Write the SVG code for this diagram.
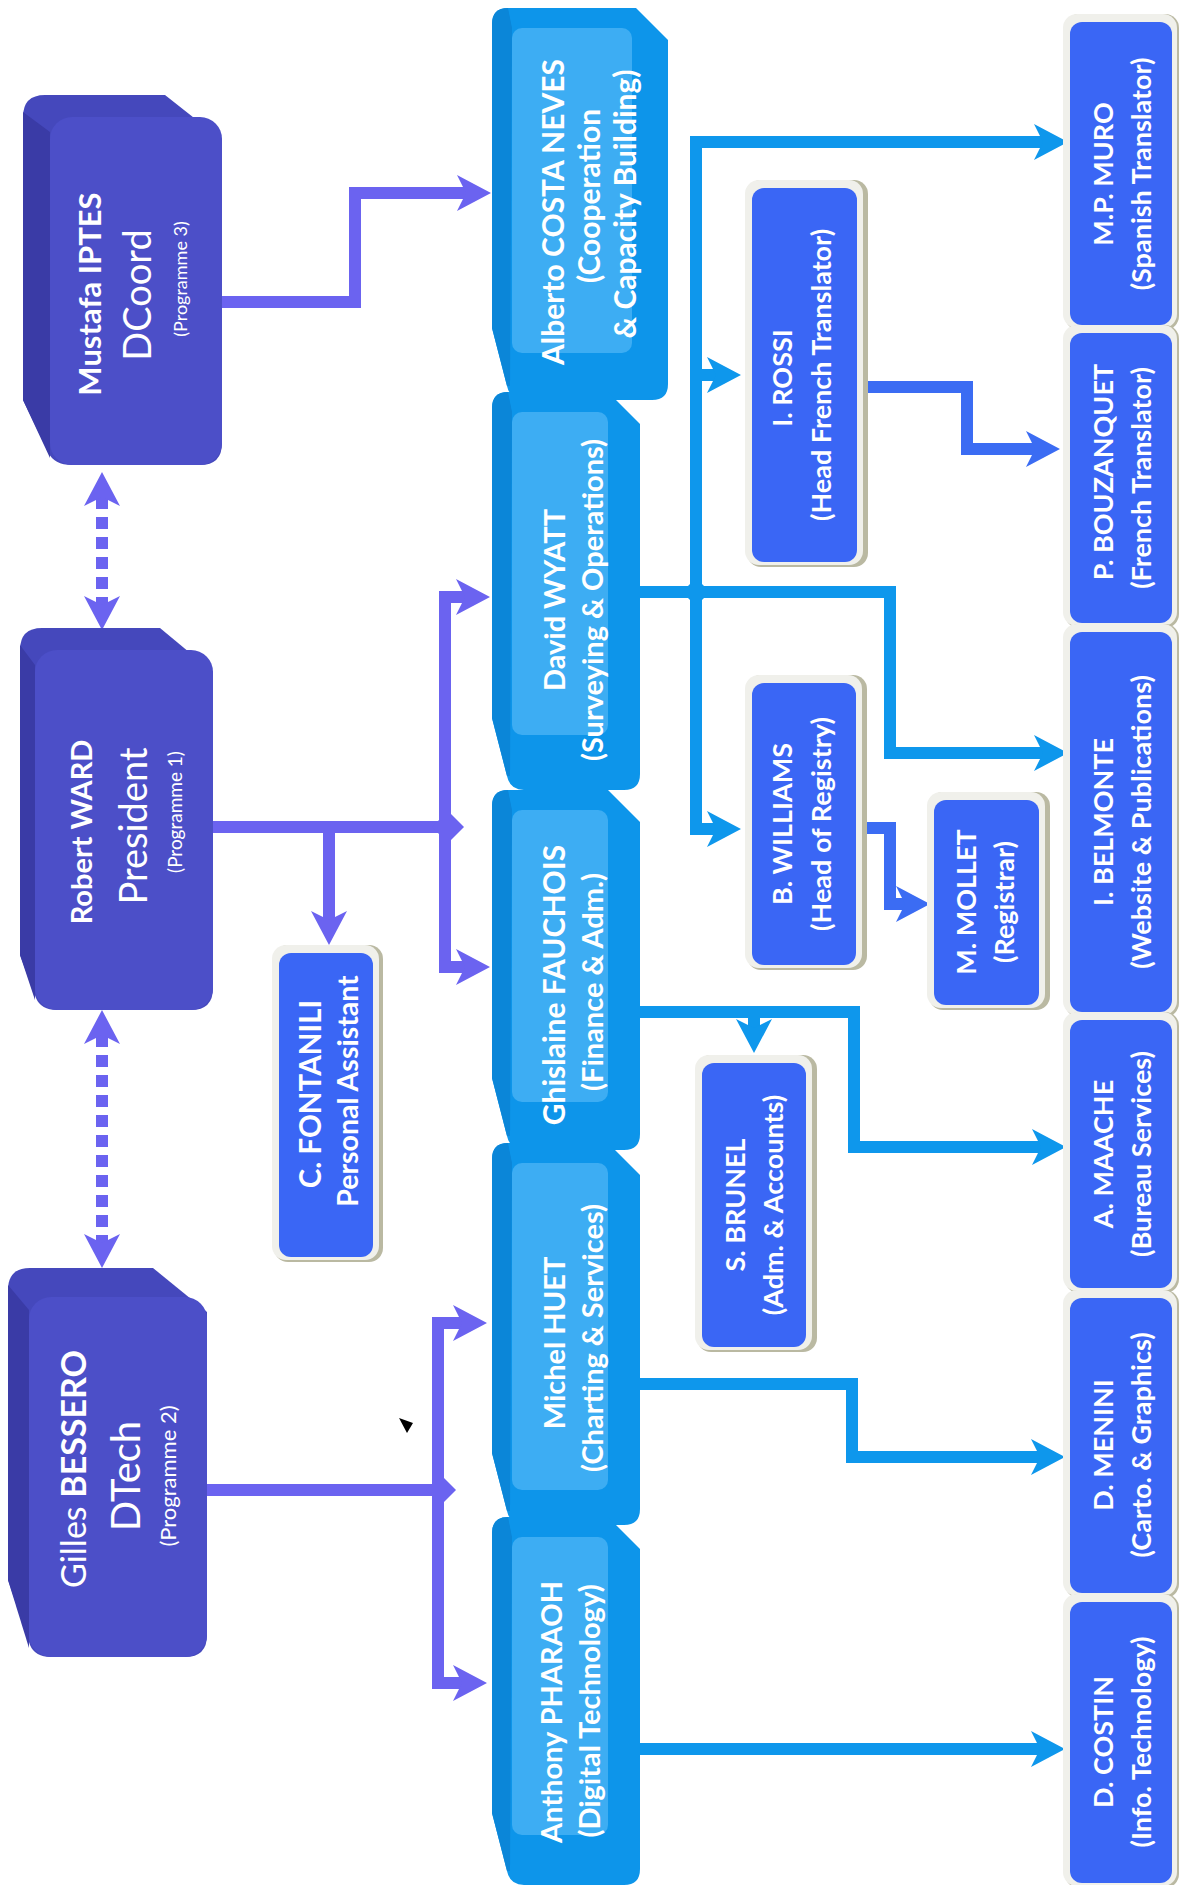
<svg xmlns="http://www.w3.org/2000/svg" width="1179" height="1885" viewBox="0 0 1179 1885">
<defs>
<style>
text{font-family:Lato,'Open Sans','Liberation Sans',sans-serif;fill:#ffffff;text-anchor:middle}
.b{font-weight:700}
.r{font-weight:400}
.hull{fill:#4548BC}
.side{fill:#3A3BA6}
.face{fill:#4C4FC8}
.bhull{fill:#0D95EA}
.bside{fill:#0B86D8}
.bpanel{fill:#3DADF3}
.sh{fill:#BAB9A2}
.fr{fill:#F0F0EB}
.sb{fill:#3A66F5}
.lp{fill:none;stroke:#6B63F0;stroke-width:12}
.lb{fill:none;stroke:#0E97EC;stroke-width:12}
.lr{fill:none;stroke:#3B6CF3;stroke-width:12}
.s27{font-size:27px}
.s29{font-size:29px}
.s30{font-size:30px}
</style>
<marker id="ap" markerUnits="userSpaceOnUse" markerWidth="40" markerHeight="40" viewBox="-2 -20 40 40" refX="9" refY="0" orient="auto-start-reverse"><path d="M0,-18 L34,0 L0,18 L9,0 Z" fill="#6B63F0"/></marker>
<marker id="ab" markerUnits="userSpaceOnUse" markerWidth="40" markerHeight="40" viewBox="-2 -20 40 40" refX="9" refY="0" orient="auto-start-reverse"><path d="M0,-18 L34,0 L0,18 L9,0 Z" fill="#0E97EC"/></marker>
<marker id="ar" markerUnits="userSpaceOnUse" markerWidth="40" markerHeight="40" viewBox="-2 -20 40 40" refX="9" refY="0" orient="auto-start-reverse"><path d="M0,-18 L34,0 L0,18 L9,0 Z" fill="#3B6CF3"/></marker>
</defs>
<rect width="1179" height="1885" fill="#ffffff"/>

<g id="connectors">
<path class="lp" d="M222,302 H355 V193 H466" marker-end="url(#ap)"/>
<path class="lp" d="M213,827 H448"/>
<polygon fill="#6B63F0" points="464,827 448,811 432,827 448,843"/>
<path class="lp" d="M329,827 V920" marker-end="url(#ap)"/>
<path class="lp" d="M465,597 H445 V967 H465" marker-start="url(#ap)" marker-end="url(#ap)"/>
<path class="lp" d="M207,1490 H440"/>
<polygon fill="#6B63F0" points="456,1490 441,1475 426,1490 441,1505"/>
<path class="lp" d="M462,1323 H438 V1683 H462" marker-start="url(#ap)" marker-end="url(#ap)"/>
<path class="lp" d="M102,497 V605" stroke-dasharray="12 8" marker-start="url(#ap)" marker-end="url(#ap)"/>
<path class="lp" d="M102,1035 V1243" stroke-dasharray="12 8" marker-start="url(#ap)" marker-end="url(#ap)"/>
<path class="lb" d="M640,592 H890 V753 H1043" marker-end="url(#ab)"/>
<path class="lb" d="M1043,142 H696 V829 H716" marker-start="url(#ab)" marker-end="url(#ab)"/>
<path class="lb" d="M696,375 H716" marker-end="url(#ab)"/>
<polygon fill="#0E97EC" points="710,592 696,578 682,592 696,606"/>
<path class="lb" d="M640,1012 H854 V1147 H1041" marker-end="url(#ab)"/>
<path class="lb" d="M754,1012 V1028" marker-end="url(#ab)"/>
<path class="lb" d="M640,1384 H852 V1457 H1040" marker-end="url(#ab)"/>
<path class="lb" d="M640,1749 H1040" marker-end="url(#ab)"/>
<path class="lr" d="M857,387 H967 V449 H1035" marker-end="url(#ar)"/>
<path class="lr" d="M856,828 H890 V904 H905" marker-end="url(#ar)"/>
</g>

<g id="mustafa">
<path class="hull" d="M23,117 Q23,95 45,95 L165,95 L222,140 L222,443 Q222,465 200,465 L72,465 Q54,465 48,452 L23,400 Z"/>
<path class="side" d="M23,112 L50,132 L50,458 L23,400 Z"/>
<rect class="face" x="50" y="117" width="172" height="348" rx="22"/>
<text class="b" font-size="31" transform="translate(101,294) rotate(-90)">Mustafa IPTES</text>
<text class="r" font-size="38" transform="translate(151,295) rotate(-90)">DCoord</text>
<text class="r" font-size="18" transform="translate(187,279) rotate(-90)">(Programme 3)</text>
</g>

<g id="robert">
<path class="hull" d="M20,650 Q20,628 42,628 L160,628 L213,672 L213,988 Q213,1010 191,1010 L57,1010 Q41,1010 36,998 L20,955 Z"/>
<path class="side" d="M20,645 L35,665 L35,1000 L20,955 Z"/>
<rect class="face" x="35" y="650" width="178" height="360" rx="22"/>
<text class="b" font-size="29" transform="translate(92,832) rotate(-90)">Robert WARD</text>
<text class="r" font-size="38" transform="translate(147,826) rotate(-90)">President</text>
<text class="r" font-size="19" transform="translate(182,812) rotate(-90)">(Programme 1)</text>
</g>

<g id="gilles">
<path class="hull" d="M8,1290 Q8,1268 30,1268 L153,1268 L207,1312 L207,1635 Q207,1657 185,1657 L51,1657 Q35,1657 30,1645 L8,1580 Z"/>
<path class="side" d="M8,1285 L29,1310 L29,1648 L8,1580 Z"/>
<rect class="face" x="29" y="1297" width="178" height="360" rx="22"/>
<text font-size="34" transform="translate(86,1469) rotate(-90)"><tspan class="r">Gilles </tspan><tspan class="b">BESSERO</tspan></text>
<text class="r" font-size="40" transform="translate(140,1476) rotate(-90)">DTech</text>
<text class="r" font-size="22" transform="translate(176,1476) rotate(-90)">(Programme 2)</text>
</g>

<g id="alberto">
<path class="bhull" d="M492,24 Q492,8 508,8 L636,8 L668,40 L668,384 Q668,400 652,400 L524,400 Q510,400 507,386 L492,328 Z"/>
<path class="bside" d="M492,24 Q492,8 508,8 L512,28 L510,386 L507,386 L492,328 Z"/>
<rect class="bpanel" x="512" y="28" width="120" height="325" rx="10"/>
<text class="b s30" transform="translate(564,212) rotate(-90)">Alberto COSTA NEVES</text>
<text class="b s30" transform="translate(600,196) rotate(-90)">(Cooperation</text>
<text class="b s30" transform="translate(636,204) rotate(-90)">&amp; Capacity Building)</text>
</g>

<g id="wyatt">
<path class="bhull" d="M492,408 Q492,392 508,392 L608,392 L640,424 L640,774 Q640,790 624,790 L524,790 Q510,790 507,776 L492,718 Z"/>
<path class="bside" d="M492,408 Q492,392 508,392 L512,412 L510,776 L507,776 L492,718 Z"/>
<rect class="bpanel" x="512" y="412" width="96" height="323" rx="10"/>
<text class="b s29" transform="translate(565,600) rotate(-90)">David WYATT</text>
<text class="b s29" transform="translate(603,600) rotate(-90)">(Surveying &amp; Operations)</text>
</g>

<g id="fauchois">
<path class="bhull" d="M492,806 Q492,790 508,790 L608,790 L640,822 L640,1134 Q640,1150 624,1150 L524,1150 Q510,1150 507,1136 L492,1078 Z"/>
<path class="bside" d="M492,806 Q492,790 508,790 L512,810 L510,1136 L507,1136 L492,1078 Z"/>
<rect class="bpanel" x="512" y="810" width="96" height="292" rx="10"/>
<text class="b s30" transform="translate(565,985) rotate(-90)">Ghislaine FAUCHOIS</text>
<text class="b s29" transform="translate(603,982) rotate(-90)">(Finance &amp; Adm.)</text>
</g>

<g id="huet">
<path class="bhull" d="M492,1159 Q492,1143 508,1143 L608,1143 L640,1175 L640,1509 Q640,1525 624,1525 L524,1525 Q510,1525 507,1511 L492,1453 Z"/>
<path class="bside" d="M492,1159 Q492,1143 508,1143 L512,1163 L510,1511 L507,1511 L492,1453 Z"/>
<rect class="bpanel" x="512" y="1163" width="96" height="327" rx="10"/>
<text class="b s29" transform="translate(565,1343) rotate(-90)">Michel HUET</text>
<text class="b s29" transform="translate(603,1338) rotate(-90)">(Charting &amp; Services)</text>
</g>

<g id="pharaoh">
<path class="bhull" d="M492,1533 Q492,1517 508,1517 L608,1517 L640,1549 L640,1869 Q640,1885 624,1885 L524,1885 Q510,1885 507,1871 L492,1813 Z"/>
<path class="bside" d="M492,1533 Q492,1517 508,1517 L512,1537 L510,1871 L507,1871 L492,1813 Z"/>
<rect class="bpanel" x="512" y="1537" width="96" height="298" rx="10"/>
<text class="b s29" transform="translate(562,1712) rotate(-90)">Anthony PHARAOH</text>
<text class="b s29" transform="translate(600,1711) rotate(-90)">(Digital Technology)</text>
</g>

<g id="fontanili">
<rect class="sh" x="274" y="945" width="109" height="317" rx="14"/>
<rect class="fr" x="272" y="945" width="107" height="315" rx="14"/>
<rect class="sb" x="279" y="953" width="94" height="304" rx="12"/>
<text class="b" font-size="29.5" transform="translate(321,1094) rotate(-90)">C. FONTANILI</text>
<text class="b" font-size="28.5" transform="translate(358,1091) rotate(-90)">Personal Assistant</text>
</g>

<g id="brunel">
<rect class="sh" x="697" y="1055" width="120" height="297" rx="14"/>
<rect class="fr" x="695" y="1055" width="117" height="295" rx="14"/>
<rect class="sb" x="702" y="1063" width="104" height="284" rx="12"/>
<text class="b s27" transform="translate(745,1205) rotate(-90)">S. BRUNEL</text>
<text class="b s27" transform="translate(783,1205) rotate(-90)">(Adm. &amp; Accounts)</text>
</g>

<g id="williams">
<rect class="sh" x="747" y="675" width="120" height="295" rx="14"/>
<rect class="fr" x="745" y="675" width="117" height="293" rx="14"/>
<rect class="sb" x="752" y="683" width="104" height="282" rx="12"/>
<text class="b s27" transform="translate(792,824) rotate(-90)">B.  WILLIAMS</text>
<text class="b s27" transform="translate(831,824) rotate(-90)">(Head of Registry)</text>
</g>

<g id="mollet">
<rect class="sh" x="929" y="792" width="121" height="218" rx="14"/>
<rect class="fr" x="927" y="792" width="118" height="216" rx="14"/>
<rect class="sb" x="934" y="800" width="105" height="205" rx="12"/>
<text class="b s27" transform="translate(976,902) rotate(-90)">M. MOLLET</text>
<text class="b s27" transform="translate(1014,902) rotate(-90)">(Registrar)</text>
</g>

<g id="rossi">
<rect class="sh" x="747" y="180" width="121" height="387" rx="14"/>
<rect class="fr" x="745" y="180" width="118" height="385" rx="14"/>
<rect class="sb" x="752" y="188" width="105" height="374" rx="12"/>
<text class="b s27" transform="translate(792,378) rotate(-90)">I. ROSSI</text>
<text class="b s27" transform="translate(831,375) rotate(-90)">(Head French Translator)</text>
</g>

<g id="muro">
<rect class="sh" x="1065" y="14" width="114" height="316" rx="14"/>
<rect class="fr" x="1063" y="14" width="114" height="314" rx="14"/>
<rect class="sb" x="1070" y="22" width="102" height="303" rx="12"/>
<text class="b s27" transform="translate(1113,174) rotate(-90)">M.P. MURO</text>
<text class="b s27" transform="translate(1151,174) rotate(-90)">(Spanish Translator)</text>
</g>

<g id="bouzanquet">
<rect class="sh" x="1065" y="325" width="114" height="303" rx="14"/>
<rect class="fr" x="1063" y="325" width="114" height="301" rx="14"/>
<rect class="sb" x="1070" y="333" width="102" height="290" rx="12"/>
<text class="b s27" transform="translate(1113,472) rotate(-90)">P. BOUZANQUET</text>
<text class="b s27" transform="translate(1151,478) rotate(-90)">(French Translator)</text>
</g>

<g id="belmonte">
<rect class="sh" x="1065" y="624" width="114" height="393" rx="14"/>
<rect class="fr" x="1063" y="624" width="114" height="391" rx="14"/>
<rect class="sb" x="1070" y="632" width="102" height="380" rx="12"/>
<text class="b s27" transform="translate(1113,822) rotate(-90)">I. BELMONTE</text>
<text class="b s27" transform="translate(1151,822) rotate(-90)">(Website &amp; Publications)</text>
</g>

<g id="maache">
<rect class="sh" x="1065" y="1012" width="114" height="281" rx="14"/>
<rect class="fr" x="1063" y="1012" width="114" height="279" rx="14"/>
<rect class="sb" x="1070" y="1020" width="102" height="268" rx="12"/>
<text class="b s27" transform="translate(1113,1154) rotate(-90)">A.  MAACHE</text>
<text class="b s27" transform="translate(1151,1154) rotate(-90)">(Bureau Services)</text>
</g>

<g id="menini">
<rect class="sh" x="1065" y="1290" width="114" height="308" rx="14"/>
<rect class="fr" x="1063" y="1290" width="114" height="306" rx="14"/>
<rect class="sb" x="1070" y="1298" width="102" height="295" rx="12"/>
<text class="b s27" transform="translate(1113,1445) rotate(-90)">D. MENINI</text>
<text class="b s27" transform="translate(1151,1445) rotate(-90)">(Carto. &amp; Graphics)</text>
</g>

<g id="costin">
<rect class="sh" x="1065" y="1594" width="114" height="294" rx="14"/>
<rect class="fr" x="1063" y="1594" width="114" height="292" rx="14"/>
<rect class="sb" x="1070" y="1602" width="102" height="281" rx="12"/>
<text class="b s27" transform="translate(1113,1742) rotate(-90)">D. COSTIN</text>
<text class="b s27" transform="translate(1151,1742) rotate(-90)">(Info. Technology)</text>
</g>

<g id="mark">
<polygon fill="#000000" points="399,1418 413,1423 407,1433"/>
</g>
</svg>
